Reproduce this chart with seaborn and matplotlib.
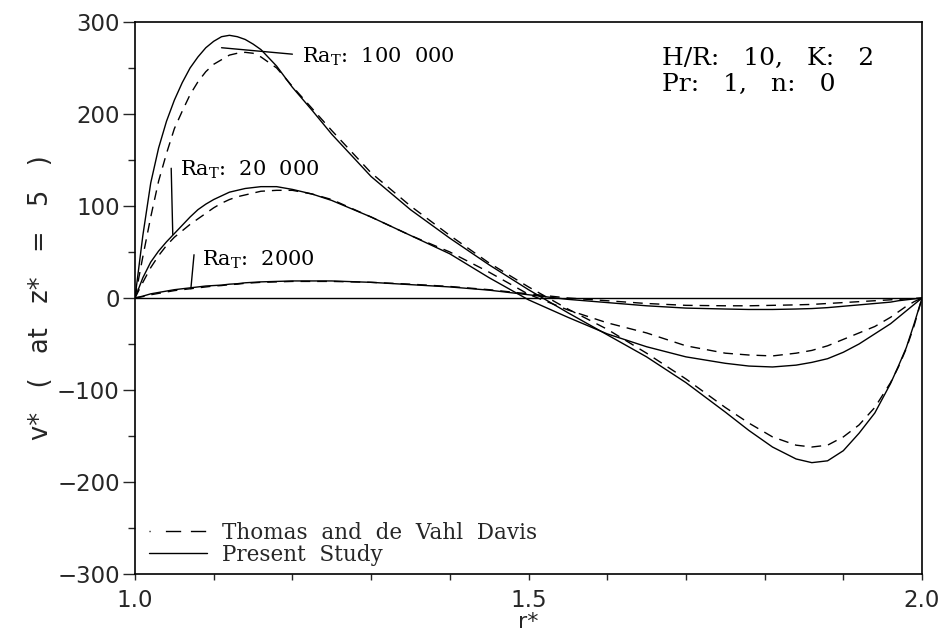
import numpy as np
import pandas as pd
import seaborn as sns
import matplotlib
matplotlib.use("Agg")
import matplotlib.pyplot as plt
from matplotlib.lines import Line2D
from matplotlib.ticker import MultipleLocator

# radial positions r*
r = [1.00, 1.01, 1.02, 1.03, 1.04, 1.05, 1.06, 1.07, 1.08, 1.09, 1.10, 1.11, 1.12,
     1.13, 1.14, 1.15, 1.16, 1.18, 1.20, 1.225, 1.25, 1.30, 1.35, 1.40, 1.45, 1.50,
     1.55, 1.60, 1.65, 1.70, 1.75, 1.78, 1.81, 1.84, 1.86, 1.88, 1.90, 1.92, 1.94,
     1.96, 1.97, 1.98, 1.99, 2.00]

# present study (solid)
v_100k = [0, 68, 125, 163, 192, 215, 234, 250, 262, 272, 279, 284, 285.5,
          284, 281, 276, 270, 252, 229, 204, 178, 132, 96, 65, 36, 9,
          -16, -40, -64, -92, -124, -144, -162, -175, -179, -177, -166, -147, -125,
          -93, -74, -54, -28, 0]
v_20k = [0, 22, 39, 51, 61, 70, 79, 88, 96, 102, 107, 111, 115,
         117, 119, 120, 121, 121, 118, 113, 106, 88, 68, 48, 22, -2,
         -21, -39, -53, -64, -71, -74, -75, -73, -70, -66, -59, -50, -39,
         -28, -21, -14, -7, 0]
v_2k = [0, 2, 4.5, 6, 7.5, 9, 10, 11, 12, 13, 13.5, 14, 15,
        15.5, 16.5, 17, 17.5, 18, 18.5, 18.5, 18.5, 17, 14.5, 12, 8.5, 3.5,
        -1.5, -5, -8.5, -11, -12, -12.5, -12.5, -12, -11.5, -10.5, -9, -7.5, -6,
        -4.5, -3, -2, -1, 0]

# Thomas and de Vahl Davis (dashed)
d_100k = [0, 45, 88, 127, 157, 184, 203, 221, 235, 246, 254, 259, 264,
          266, 267, 266, 262, 250, 230, 206, 182, 136, 100, 68, 38, 12,
          -12, -34, -60, -88, -119, -136, -151, -160, -162, -160, -151, -138, -119,
          -92, -75, -55, -30, 0]
d_20k = [0, 17, 33, 46, 57, 66, 73, 80, 86, 92, 98, 103, 107,
         110, 112, 114, 116, 117, 117, 113, 107, 88, 68, 50, 28, 4,
         -13, -27, -38, -52, -60, -62, -63, -60, -57, -52, -45, -38, -31,
         -21, -15, -9, -4, 0]
d_2k = [0, 1.5, 3.5, 5, 6.5, 8, 9, 10, 11, 12, 13, 13.5, 14.5,
        15, 16, 16.5, 17, 17.5, 18, 18, 18, 17, 15, 12.5, 9, 4.5,
        0, -3, -6, -8, -8.5, -8.5, -8, -7.5, -7, -6, -5, -4, -3,
        -2, -1.5, -1, -0.5, 0]

present = "Present  Study"
thomas = "Thomas  and  de  Vahl  Davis"

rows = []
for src, ra, vals in [(present, "100000", v_100k), (present, "20000", v_20k), (present, "2000", v_2k),
                      (thomas, "100000", d_100k), (thomas, "20000", d_20k), (thomas, "2000", d_2k)]:
    for x, y in zip(r, vals):
        rows.append({"r": x, "v": y, "source": src, "curve": src + ra})
df = pd.DataFrame(rows)

sns.set_style("ticks")
plt.rcParams["font.family"] = ["DejaVu Sans"]
plt.rcParams["mathtext.fontset"] = "dejavuserif"

fig = plt.figure(figsize=(9.42, 6.35), dpi=100)
ax = fig.add_axes([0.1433, 0.0961, 0.8355, 0.8693])

sns.lineplot(data=df, x="r", y="v", style="source", units="curve", estimator=None,
             dashes={present: "", thomas: (7, 5)}, color="k", linewidth=1.0,
             legend=False, ax=ax)
ax.axhline(0, color="k", linewidth=1.0)

ax.set_xlim(1.0, 2.0)
ax.set_ylim(-300, 300)
ax.set_xticks([1.0, 1.5, 2.0])
ax.set_xticklabels(["1.0", "1.5", "2.0"])
ax.xaxis.set_minor_locator(MultipleLocator(0.1))
ax.set_yticks([-300, -200, -100, 0, 100, 200, 300])
ax.yaxis.set_minor_locator(MultipleLocator(50))
ax.tick_params(axis="x", which="both", direction="out", length=4, width=1, pad=7,
               labelsize=16.5, top=False)
ax.tick_params(axis="y", which="major", direction="out", length=9, width=1, pad=2,
               labelsize=16.5, right=False)
ax.tick_params(axis="y", which="minor", direction="out", length=5, width=1, right=False)
for s in ax.spines.values():
    s.set_linewidth(1.2)
    s.set_color("k")

ax.set_xlabel("r*", fontsize=16, labelpad=0)
ax.set_ylabel("v*   (   at   z*   =   5   )", fontsize=18.5, labelpad=2)

serif = dict(fontfamily="DejaVu Serif", fontsize=15, color="k")
line = dict(arrowstyle="-", color="k", linewidth=1.0, shrinkA=0, shrinkB=0)

ax.annotate("", xy=(1.11, 272), xytext=(1.20, 265), arrowprops=line)
ax.text(1.212, 262, r"Ra$_\mathrm{T}$:  100  000", ha="left", va="center", **serif)

ax.annotate("", xy=(1.048, 69), xytext=(1.046, 141), arrowprops=line)
ax.text(1.057, 139, r"Ra$_\mathrm{T}$:  20  000", ha="left", va="center", **serif)

ax.annotate("", xy=(1.071, 10), xytext=(1.075, 47), arrowprops=line)
ax.text(1.085, 41, r"Ra$_\mathrm{T}$:  2000", ha="left", va="center", **serif)

ax.text(1.67, 260, "H/R:   10,   K:   2", ha="left", va="center",
        fontfamily="DejaVu Serif", fontsize=18, color="k")
ax.text(1.67, 232, "Pr:   1,   n:   0", ha="left", va="center",
        fontfamily="DejaVu Serif", fontsize=18, color="k")

handles = [Line2D([], [], color="k", linewidth=1.0, linestyle=(0, (0.8, 11, 11, 7, 11, 20))),
           Line2D([], [], color="k", linewidth=1.0)]
ax.legend(handles, [thomas, present], loc="lower left", bbox_to_anchor=(0.018, 0.015),
          frameon=False, handlelength=2.7, handletextpad=0.7, labelspacing=0.0,
          borderpad=0, borderaxespad=0, prop={"family": "DejaVu Serif", "size": 15.5})

fig.savefig("out.png", dpi=100)
